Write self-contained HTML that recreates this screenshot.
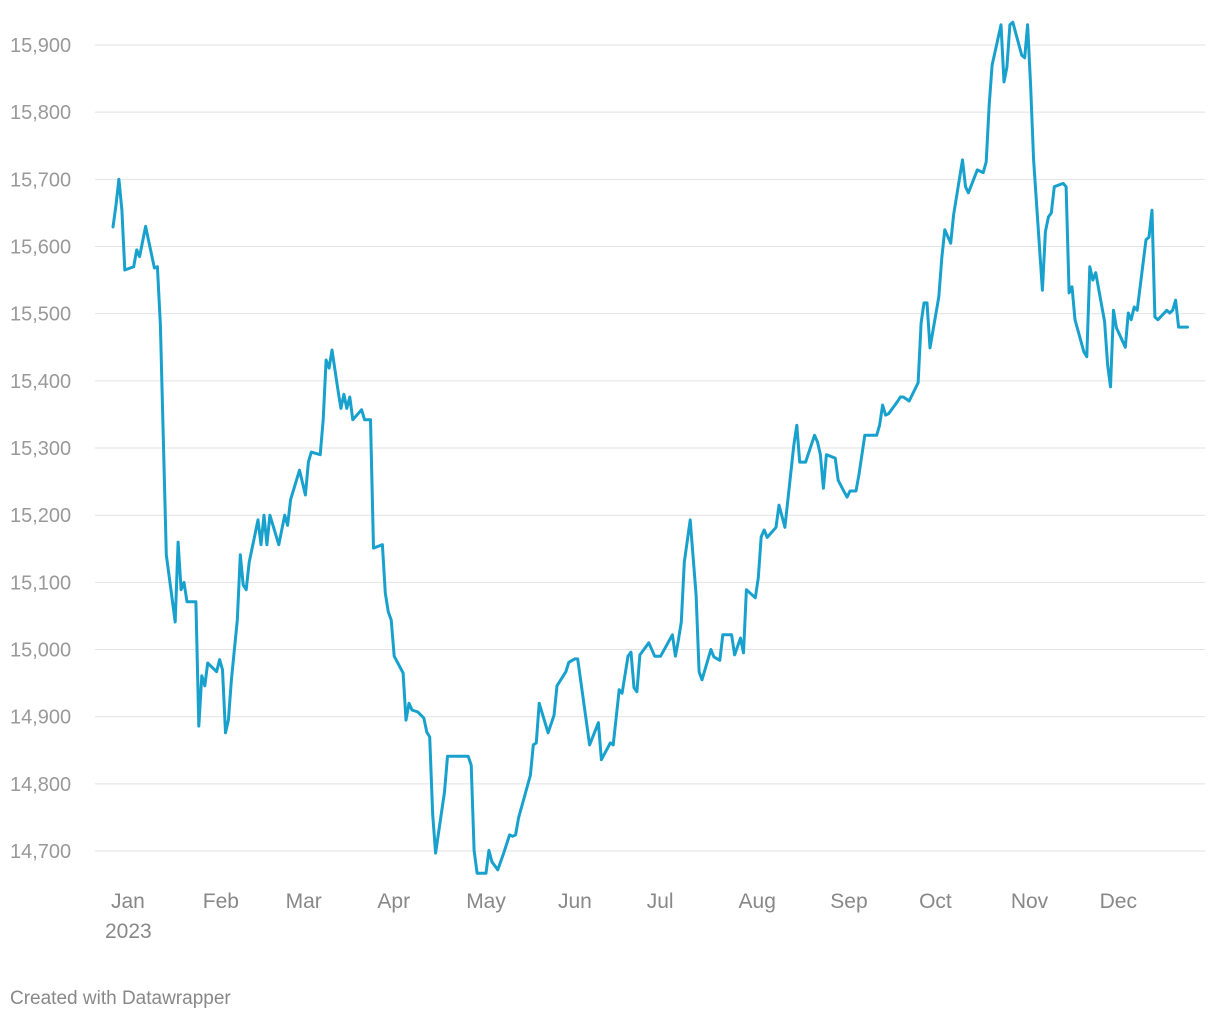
<!DOCTYPE html>
<html><head><meta charset="utf-8">
<style>
body{margin:0;background:#fff;font-family:"Liberation Sans",Arial,sans-serif;}
svg text{font-family:"Liberation Sans",Arial,sans-serif;}
</style></head>
<body>
<svg id="chart" width="1220" height="1020" viewBox="0 0 1220 1020" xmlns="http://www.w3.org/2000/svg">
<g id="grid"></g>
<g id="yaxis"></g>
<g id="xaxis"></g>
<g id="series"></g>
<text x="10" y="1004" font-size="19" fill="#888">Created with Datawrapper</text>
</svg>
<script>
const yTicks=[14700,14800,14900,15000,15100,15200,15300,15400,15500,15600,15700,15800,15900];
const monthLabels=["Jan","Feb","Mar","Apr","May","Jun","Jul","Aug","Sep","Oct","Nov","Dec"];
const monthStartDays=[0,31,59,90,120,151,181,212,243,273,304,334];
const yearLabel="2023";
const days=[0,1,2,3,4,7,8,9,11,14,15,16,18,21,22,23,24,25,28,29,30,31,32,35,36,37,38,39,40,42,43,44,45,46,49,50,51,52,53,56,58,59,60,63,65,66,67,70,71,72,73,74,76,77,78,79,80,81,84,85,87,88,91,92,93,94,95,98,99,100,101,103,105,106,107,108,109,112,113,120,121,122,123,126,127,128,130,132,134,135,136,137,141,142,143,144,147,149,150,153,154,156,157,161,164,165,168,169,171,172,174,175,176,177,178,181,183,185,189,190,191,192,193,195,197,198,199,202,203,205,206,209,210,212,213,214,217,218,219,220,221,224,225,227,230,231,232,234,237,238,239,240,241,244,245,247,248,249,251,252,254,258,259,260,261,262,265,266,267,269,272,273,274,275,276,279,280,281,283,284,287,288,289,292,294,295,296,297,300,301,302,303,304,307,308,309,310,311,314,315,316,317,318,321,322,323,324,325,328,329,330,331,332,335,336,337,338,339,342,343,344,345,346,349,350,351,352,353,356,357,358,359,360,363];
const values=[15629,15662,15700,15654,15565,15570,15595,15585,15630,15568,15570,15483,15141,15041,15160,15089,15100,15071,15071,14886,14961,14946,14980,14967,14985,14970,14876,14895,14955,15044,15141,15096,15089,15130,15193,15156,15200,15156,15200,15156,15200,15185,15223,15267,15230,15279,15294,15290,15342,15431,15419,15446,15386,15359,15380,15359,15376,15342,15357,15342,15342,15151,15156,15084,15056,15044,14990,14965,14895,14920,14910,14907,14898,14877,14870,14754,14697,14788,14841,14841,14828,14701,14667,14667,14701,14684,14672,14697,14724,14722,14724,14749,14813,14858,14861,14920,14876,14902,14946,14967,14981,14986,14986,14858,14891,14836,14861,14858,14940,14935,14990,14996,14943,14937,14992,15010,14990,14990,15022,14990,15014,15041,15130,15193,15081,14967,14955,15000,14989,14984,15022,15022,14992,15017,14995,15089,15077,15107,15168,15178,15167,15182,15215,15182,15304,15334,15279,15279,15319,15309,15290,15240,15290,15285,15252,15235,15227,15236,15236,15260,15319,15319,15334,15364,15349,15351,15369,15376,15376,15370,15397,15486,15516,15516,15449,15525,15583,15625,15605,15647,15729,15689,15680,15714,15710,15726,15811,15870,15930,15845,15867,15930,15934,15885,15881,15930,15840,15729,15535,15622,15644,15650,15689,15694,15689,15531,15540,15491,15443,15436,15570,15550,15561,15488,15424,15391,15505,15479,15450,15501,15491,15510,15505,15610,15614,15654,15495,15491,15505,15501,15505,15520,15480,15480];

const NS="http://www.w3.org/2000/svg";
function xScale(d){return 113+d*2.96;}
function yScale(v){return 45+(15900-v)*0.6717;}
function mk(tag,attrs,parent){const e=document.createElementNS(NS,tag);for(const k in attrs)e.setAttribute(k,attrs[k]);parent.appendChild(e);return e;}
const grid=document.getElementById('grid'),yaxis=document.getElementById('yaxis'),xaxis=document.getElementById('xaxis'),series=document.getElementById('series');
yTicks.forEach(v=>{
  const y=yScale(v);
  const l=mk('line',{x1:95,x2:1205,y1:y,y2:y,stroke:'#e2e2e2','stroke-width':1},grid);
  
  
  const t=mk('text',{x:10,y:y+7,'font-size':20,fill:'#999'},yaxis);
  t.textContent=v.toLocaleString('en-US');
  
  
});
monthLabels.forEach((m,i)=>{
  const x=xScale(monthStartDays[i])-2;
  const t=mk('text',{x:x,y:908,'font-size':21,fill:'#888'},xaxis);
  t.textContent=m;
  
  
});
const yr=mk('text',{x:xScale(0)-8,y:938,'font-size':21,fill:'#888'},xaxis);
yr.textContent=yearLabel;


const pts=days.map((d,i)=>xScale(d).toFixed(1)+','+yScale(values[i]).toFixed(1)).join(' ');
const pl=mk('polyline',{points:pts,fill:'none',stroke:'#18a1cd','stroke-width':3,'stroke-linejoin':'round','stroke-linecap':'round'},series);


</script>
</body></html>
